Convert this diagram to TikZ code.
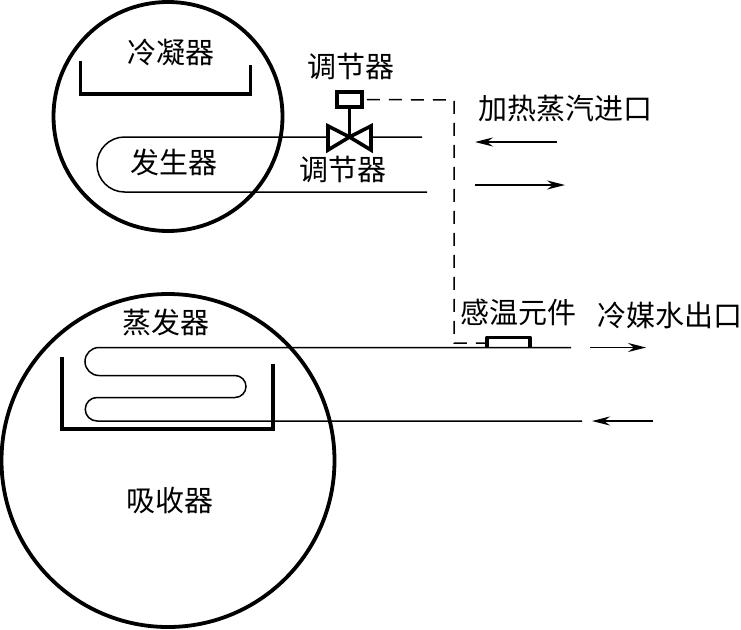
\documentclass[tikz,border=0pt]{standalone}
\usepackage{fontspec}
\setmainfont{Noto Sans CJK SC}[Scale=1]
\usetikzlibrary{arrows.meta}
\tikzset{
  vessel/.style={draw=black,line width=3.8pt,circle,inner sep=0pt},
  thick line/.style={line width=3.6pt,line join=miter},
  pipe/.style={line width=1.5pt},
  flow/.style={line width=1.4pt,-{Stealth[length=18pt,width=9pt,inset=6pt]}},
  signal/.style={line width=1.5pt,dash pattern=on 13pt off 9pt},
  lbl/.style={font=\fontsize{29}{30}\selectfont,inner sep=0pt}
}
\begin{document}
\begin{tikzpicture}[x=1pt,y=-1pt]
\useasboundingbox (0,0) rectangle (741,629);
\fill[white] (0,0) rectangle (741,629);
% vessels
\node[vessel,minimum size=229pt] (upper) at (168,116.5) {};
\node[vessel,minimum size=333pt] (lower) at (168,460.5) {};
% condenser tray
\coordinate (cl) at (80.5,61); \coordinate (cr) at (250.5,65);
\draw[thick line] (cl) -- (80.5,94) -- (250.5,94) -- (cr);
% generator tube
\coordinate (gt) at (422,137); \coordinate (gb) at (427,192);
\draw[pipe] (gt) -- (124.5,137) arc[start angle=270,end angle=90,radius=27.5] -- (gb);
% valve
\coordinate (vc) at (349.5,137);
\node[draw,line width=3.6pt,minimum width=25pt,minimum height=15pt,inner sep=0pt,fill=white] (act) at (349.5,99.5) {};
\draw[thick line,fill=white,line join=miter] (vc) -- (328,126) -- (328,150) -- cycle;
\draw[thick line,fill=white,line join=miter] (vc) -- (371,126) -- (371,150) -- cycle;
\draw[line width=3.6pt] (act.south) -- (vc);
% evaporator coil
\coordinate (eo) at (571,347.5); \coordinate (ei) at (582,421);
\draw[pipe] (eo) -- (99,347.5) arc[start angle=270,end angle=90,radius=14]
  -- (235,375.5) arc[start angle=-90,end angle=90,radius=11]
  -- (97,397.5) arc[start angle=270,end angle=90,radius=11.75] -- (ei);
% evaporator tray
\coordinate (tl) at (62,357); \coordinate (tr) at (273,364);
\draw[thick line] (tl) -- (62,429) -- (273,429) -- (tr);
% sensor
\coordinate (sa) at (487,347.5); \coordinate (sb) at (530,347.5);
\draw[line width=3.6pt,line join=round] (sa) -- (487,337.5) -- (530,337.5) -- (sb);
\coordinate (sl) at (487,343);
% signal line
\draw[signal] (act.east) ++(3,0) -- (454,100) -- (454,343) -- (sl);
% flow arrows
\coordinate (a1s) at (557,142); \coordinate (a1e) at (475,142);
\coordinate (a2s) at (475,185); \coordinate (a2e) at (565,185);
\coordinate (a3s) at (590,347.5); \coordinate (a3e) at (646,347.5);
\coordinate (a4s) at (653,421); \coordinate (a4e) at (592,421);
\draw[flow] (a1s) -- (a1e);
\draw[flow] (a2s) -- (a2e);
\draw[flow] (a3s) -- (a3e);
\draw[flow] (a4s) -- (a4e);
% labels
\node[lbl] (t1) at (171,52) {冷凝器};
\node[lbl] (t2) at (351,66) {调节器};
\node[lbl] (t3) at (343,169) {调节器};
\node[lbl] (t4) at (174,162) {发生器};
\node[lbl] (t5) at (565,109) {加热蒸汽进口};
\node[lbl] (t6) at (518,312) {感温元件};
\node[lbl] (t7) at (670,315) {冷媒水出口};
\node[lbl] (t8) at (166,323) {蒸发器};
\node[lbl] (t9) at (170,500) {吸收器};
\end{tikzpicture}
\end{document}
